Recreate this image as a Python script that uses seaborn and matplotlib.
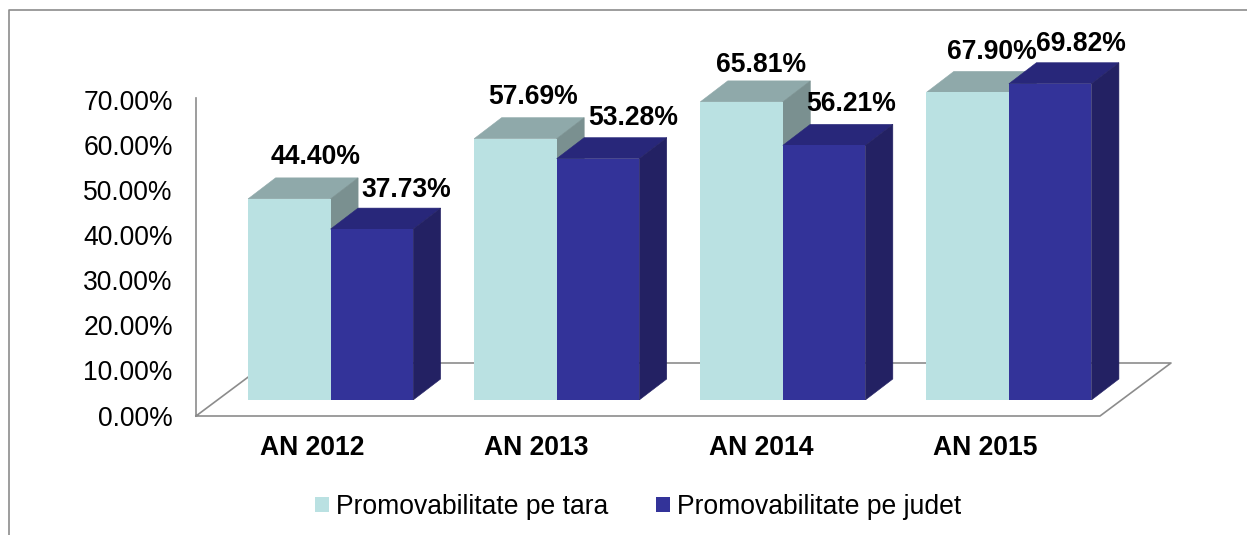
import matplotlib
matplotlib.use("Agg")
import matplotlib.pyplot as plt
from matplotlib.lines import Line2D
from matplotlib.patches import Polygon
from matplotlib.ticker import FuncFormatter
import pandas as pd
import seaborn as sns

years = ["AN 2012", "AN 2013", "AN 2014", "AN 2015"]
series_names = ["Promovabilitate pe tara", "Promovabilitate pe judet"]
tara = [44.40, 57.69, 65.81, 67.90]
judet = [37.73, 53.28, 56.21, 69.82]

W, H = 1247, 535
FS = 19.1
GRAY = "#8c8c8c"
LIGHT = ("#BAE1E2", "#8FA9AA", "#7A9090")
DARK = ("#333399", "#28277A", "#232163")

sns.set_style("white")
plt.rcParams["font.family"] = ["Liberation Sans", "DejaVu Sans"]

fig = plt.figure(figsize=(W / 100, H / 100), dpi=100, facecolor="white")


def box(x0, ytop, x1, ybot):
    return [x0 / W, 1 - ybot / H, (x1 - x0) / W, (ybot - ytop) / H]


def fig_line(xs, ys):
    fig.add_artist(Line2D([x / W for x in xs], [1 - y / H for y in ys],
                          color=GRAY, lw=1.2, zorder=-1,
                          transform=fig.transFigure,
                          solid_capstyle="projecting"))


# Outer frame (open on the right and at the bottom)
fig_line([9, 9, W], [H, 10, 10])
# Wall and floor of the 3D box
fig_line([196, 196, 1100, 1171, 267, 196], [98, 416, 416, 363, 363, 416])

# Wall axes: value ticks and category labels
ax_w = fig.add_axes(box(199.7, 100, 1097.7, 415.5))
ax_w.patch.set_visible(False)
ax_w.set_xlim(-0.5, 3.5)
ax_w.set_ylim(0, 70)
ax_w.set_yticks(range(0, 71, 10))
ax_w.yaxis.set_major_formatter(FuncFormatter(lambda v, _: f"{v:.2f}%"))
ax_w.set_xticks(range(len(years)))
ax_w.set_xticklabels(years, fontweight="bold")
ax_w.tick_params(axis="y", length=0, pad=19.4, labelsize=FS, labelcolor="black")
ax_w.tick_params(axis="x", length=0, pad=13.7, labelsize=FS, labelcolor="black")
for s in ax_w.spines.values():
    s.set_visible(False)

# Bars axes
df = pd.DataFrame({
    "an": years * 2,
    "val": tara + judet,
    "serie": [series_names[0]] * 4 + [series_names[1]] * 4,
})
ax = fig.add_axes(box(0, 0, W, 400))
ax.patch.set_visible(False)
sns.barplot(data=df, x="an", y="val", hue="serie", ax=ax, width=0.73, gap=0,
            palette=[LIGHT[0], DARK[0]], saturation=1, errorbar=None,
            linewidth=0, zorder=3)
PX_X, PX_Y = 226.1, 4.53
ax.set_xlim(-330.6 / PX_X, (W - 330.6) / PX_X)
ax.set_ylim(0, 400 / PX_Y)
ax.set_xlabel("")
ax.set_ylabel("")
ax.set_xticks([])
ax.set_yticks([])
for s in ax.spines.values():
    s.set_visible(False)

dx, dy = 27.5 / PX_X, 21 / PX_Y
# Label offsets from the bar's front-top centre, in pixels
off_tara = [(26, 42), (18, 42), (20, 37), (24, 40)]
off_judet = [(34, 39), (35, 41), (27, 41), (31, 40)]

for cont, cols, offs, z in zip(ax.containers, (LIGHT, DARK), (off_tara, off_judet), (2, 4)):
    for bar, off in zip(cont, offs):
        bar.set_zorder(z + 1 if z == 2 else z + 0.5)
        x0, x1 = bar.get_x(), bar.get_x() + bar.get_width()
        v = bar.get_height()
        ax.add_patch(Polygon([(x0, v), (x1, v), (x1 + dx, v + dy), (x0 + dx, v + dy)],
                             fc=cols[1], ec=cols[1], lw=0.4, zorder=z))
        ax.add_patch(Polygon([(x1, 0), (x1 + dx, dy), (x1 + dx, v + dy), (x1, v)],
                             fc=cols[2], ec=cols[2], lw=0.4, zorder=z))
        ax.annotate(f"{v:.2f}%", xy=((x0 + x1) / 2, v),
                    xytext=(off[0] * 0.72, off[1] * 0.72), textcoords="offset points",
                    ha="center", va="center", fontsize=FS, fontweight="bold",
                    color="black", zorder=8, annotation_clip=False)

sns.move_legend(ax, "center", bbox_to_anchor=(638 / W, 1 - 507 / H),
                bbox_transform=fig.transFigure, ncol=2, frameon=False, title=None,
                fontsize=FS, handlelength=0.53, handleheight=0.53,
                handletextpad=0.27, columnspacing=1.8, borderpad=0, borderaxespad=0,
                labelcolor="black")

fig.savefig("out.png", dpi=100, facecolor="white")
